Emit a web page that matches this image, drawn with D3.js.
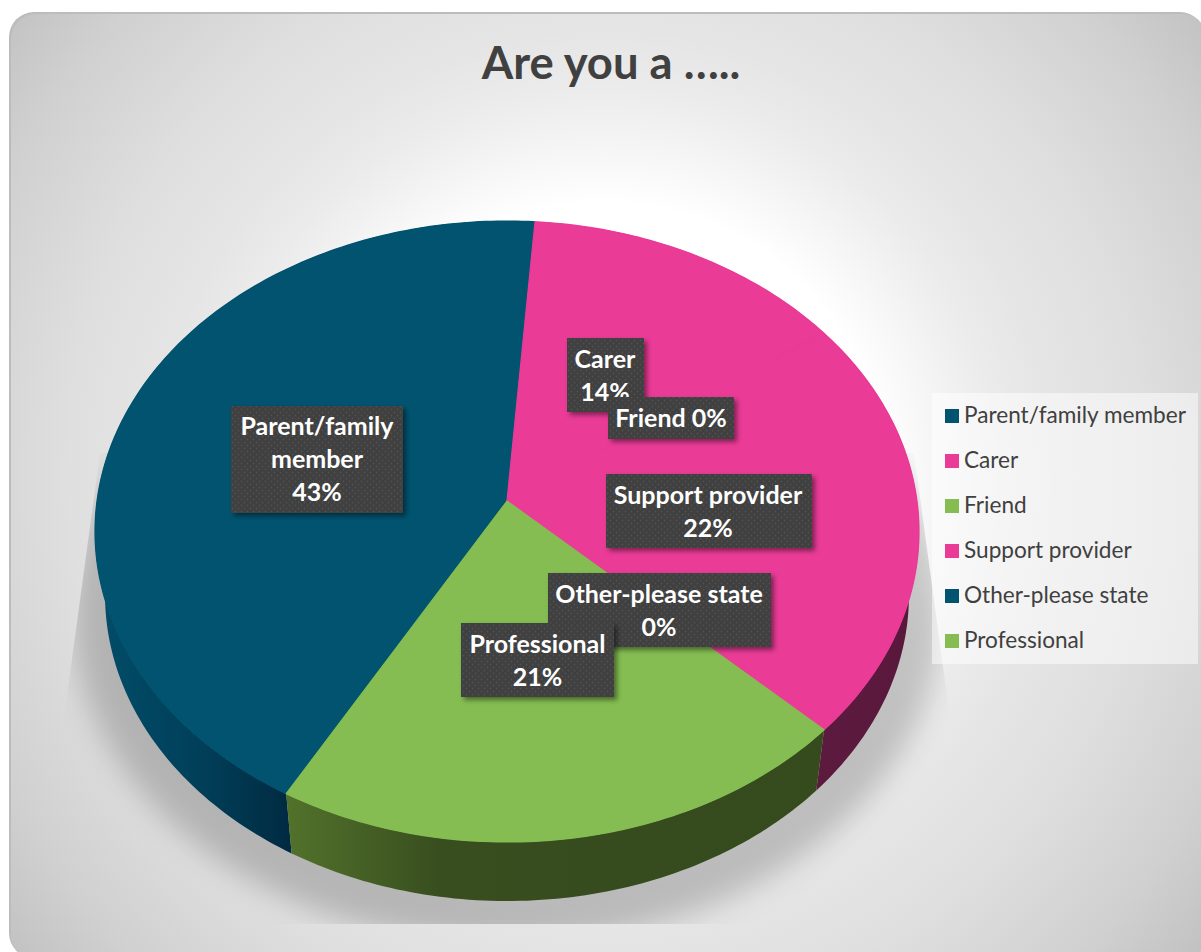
<!DOCTYPE html>
<html>
<head>
<meta charset="utf-8">
<script src="https://cdn.jsdelivr.net/npm/d3@7/dist/d3.min.js"></script>
<style>
  html, body { margin: 0; padding: 0; background: #fff; }
  svg { display: block; }
  text { font-family: Lato, "Open Sans", sans-serif; }
</style>
</head>
<body>
<svg id="chart" width="1201" height="952"></svg>
<script>
// Survey responses
const title = "Are you a …..";
const categories = ["Parent/family member", "Carer", "Friend", "Support provider", "Other-please state", "Professional"];
const percentages = [43, 14, 0, 22, 0, 21];
const labelLines = [["Parent/family", "member", "43%"], ["Carer", "14%"], ["Friend 0%"], ["Support provider", "22%"], ["Other-please state", "0%"], ["Professional", "21%"]];

// Colour per category
const topColors = ["#01536f", "#ea3b97", "#85bd52", "#ea3b97", "#01536f", "#85bd52"];
const wallGradients = {
  "#01536f": ["#014d69", "#013f59", "#002b42"],
  "#ea3b97": ["#5c1a3f", "#5a193d", "#58183b"],
  "#85bd52": ["#52722b", "#384e1f", "#354a1d"]
};
const wallSpans = { "#01536f": [95, 200, 289], "#85bd52": [285, 440, 830], "#ea3b97": [820, 870, 918] };

// Data label boxes: [left, top, right, bottom, text centre, first baseline]
const labelBoxes = [
  [231, 406, 403, 513, 317, 435],
  [567, 338, 644, 412, 605, 368],
  [608, 397, 734, 439, 671, 427],
  [606, 474, 812, 548, 708, 504],
  [548, 573, 771, 647, 659, 603],
  [461, 623, 614, 697, 537.5, 653]
];
const labelLineStep = 33;

const svg = d3.select("#chart");
const defs = svg.append("defs");

// Card background
const bg = defs.append("radialGradient").attr("id", "cardFill")
  .attr("gradientUnits", "userSpaceOnUse").attr("cx", 605).attr("cy", 480).attr("r", 790);
[[0, "#ffffff"], [0.35, "#ffffff"], [0.46, "#f0f0f0"], [0.5, "#ebebeb"], [0.57, "#e5e5e5"], [0.68, "#dfdfdf"], [0.85, "#d0d0d0"], [1, "#bdbdbd"]]
  .forEach(([o, c]) => bg.append("stop").attr("offset", o).attr("stop-color", c));

svg.append("rect").attr("x", 9).attr("y", 12).attr("width", 1196).attr("height", 946).attr("rx", 25).attr("fill", "#bcbcbc");
svg.append("rect").attr("x", 11).attr("y", 14).attr("width", 1196).attr("height", 946).attr("rx", 25).attr("fill", "url(#cardFill)");

// Perspective projection of the pie's unit disc onto a plane of the 3-D drum
const tilt = 0.0983;
const topPlane = { cx: 507, cy: 501, a: 410, b: 307.5 };
const basePlane = { cx: 507, cy: 565, a: 400, b: 303 };
const project = (plane, angle) => {
  const u = Math.sin(angle), v = Math.cos(angle);
  const d = 1 + tilt * v;
  return [plane.cx + plane.a * u / d, plane.cy - plane.b * v / d];
};

// Soft floor shadow, cut by a trapezoid as the 3-D preset does
defs.append("filter").attr("id", "floorBlur").attr("x", "-20%").attr("y", "-20%").attr("width", "140%").attr("height", "140%")
  .append("feGaussianBlur").attr("stdDeviation", 15);
defs.append("clipPath").attr("id", "floorClip").append("path").attr("d", "M100,453 L914,453 L978,924 L36,924 Z");
svg.append("g").attr("clip-path", "url(#floorClip)")
  .append("ellipse").attr("cx", 507).attr("cy", 612).attr("rx", 434).attr("ry", 332)
  .attr("fill", "#000").attr("fill-opacity", 0.2).attr("filter", "url(#floorBlur)");

// Slices
const startDeg = 209.5;
const pie = d3.pie().sort(null).startAngle(startDeg * Math.PI / 180).endAngle((startDeg + 360) * Math.PI / 180);
const slices = pie(percentages).map((s, i) => ({ ...s, color: topColors[i], category: categories[i] }));
const rim = (plane, s) => {
  const n = Math.max(2, Math.ceil((s.endAngle - s.startAngle) * 60));
  return d3.range(n + 1).map(k => project(plane, s.startAngle + (s.endAngle - s.startAngle) * k / n));
};
const line = d3.line();

// Wall gradients across the visible front of the drum
Object.entries(wallGradients).forEach(([key, stops], i) => {
  const span = wallSpans[key];
  const g = defs.append("linearGradient").attr("id", "wall" + i).attr("gradientUnits", "userSpaceOnUse")
    .attr("x1", span[0]).attr("x2", span[2]).attr("y1", 0).attr("y2", 0);
  stops.forEach((c, j) => g.append("stop").attr("offset", (span[j] - span[0]) / (span[2] - span[0])).attr("stop-color", c));
});
const wallId = c => "url(#wall" + Object.keys(wallGradients).indexOf(c) + ")";

svg.append("g").selectAll("path").data(slices.filter(s => s.value > 0)).join("path")
  .attr("d", s => line(rim(topPlane, s).concat(rim(basePlane, s).reverse())) + "Z")
  .attr("fill", s => wallId(s.color));

svg.append("g").selectAll("path").data(slices.filter(s => s.value > 0)).join("path")
  .attr("d", s => line([[topPlane.cx, topPlane.cy]].concat(rim(topPlane, s))) + "Z")
  .attr("fill", s => s.color)
  .attr("stroke", s => s.color).attr("stroke-width", 1.2).attr("stroke-linejoin", "round");

// Title
svg.append("text").attr("x", 611).attr("y", 79).attr("text-anchor", "middle")
  .attr("font-size", 45.4).attr("font-weight", 700).attr("fill", "#404040").text(title);

// Legend
svg.append("rect").attr("x", 932).attr("y", 393).attr("width", 266).attr("height", 271)
  .attr("fill", "#ffffff").attr("fill-opacity", 0.5);
const legendY = d3.scalePoint().domain(categories).range([416, 641]);
const legend = svg.append("g").selectAll("g").data(slices).join("g")
  .attr("transform", s => `translate(945,${legendY(s.category)})`);
legend.append("rect").attr("x", 0).attr("y", -7).attr("width", 14).attr("height", 14).attr("fill", s => s.color);
legend.append("text").attr("x", 19).attr("y", 7).attr("font-size", 22.6).attr("fill", "#404040").text(s => s.category);

// Data labels: dark dotted boxes with a drop shadow
const dots = defs.append("pattern").attr("id", "labelDots").attr("patternUnits", "userSpaceOnUse")
  .attr("width", 6).attr("height", 6);
dots.append("rect").attr("width", 6).attr("height", 6).attr("fill", "#3f3f3f");
dots.append("circle").attr("cx", 1.5).attr("cy", 1.5).attr("r", 0.9).attr("fill", "#515151");
dots.append("circle").attr("cx", 4.5).attr("cy", 4.5).attr("r", 0.9).attr("fill", "#515151");
defs.append("filter").attr("id", "labelShadow").attr("x", "-10%").attr("y", "-10%").attr("width", "125%").attr("height", "130%")
  .append("feDropShadow").attr("dx", 3).attr("dy", 3).attr("stdDeviation", 2.5)
  .attr("flood-color", "#000").attr("flood-opacity", 0.45);

const labels = svg.append("g").selectAll("g").data(slices).join("g");
labels.append("rect")
  .attr("x", (s, i) => labelBoxes[i][0]).attr("y", (s, i) => labelBoxes[i][1])
  .attr("width", (s, i) => labelBoxes[i][2] - labelBoxes[i][0])
  .attr("height", (s, i) => labelBoxes[i][3] - labelBoxes[i][1])
  .attr("fill", "url(#labelDots)").attr("filter", "url(#labelShadow)");
labels.append("text").attr("text-anchor", "middle").attr("font-size", 25).attr("font-weight", 700).attr("fill", "#fff")
  .each(function (s, i) {
    d3.select(this).selectAll("tspan").data(labelLines[i]).join("tspan")
      .attr("x", labelBoxes[i][4])
      .attr("y", (t, j) => labelBoxes[i][5] + j * labelLineStep)
      .text(t => t);
  });
</script>
</body>
</html>
